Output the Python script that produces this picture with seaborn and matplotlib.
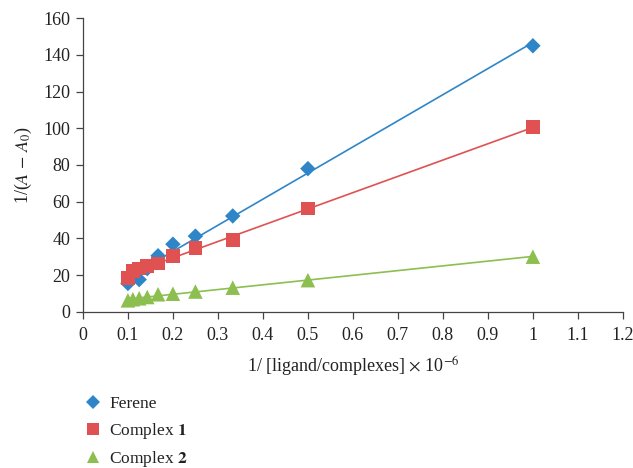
import numpy as np
import pandas as pd
import matplotlib
matplotlib.use("Agg")
import matplotlib.pyplot as plt
from matplotlib.lines import Line2D
import seaborn as sns

# 데이터
x_vals = [0.1, 0.111, 0.125, 0.143, 0.167, 0.2, 0.25, 0.333, 0.5, 1.0]
ferene = [15.4, 21.0, 17.5, 23.5, 30.5, 36.8, 41.2, 52.2, 78.0, 145.0]
complex1 = [18.5, 22.2, 23.5, 25.0, 26.2, 30.4, 34.6, 39.0, 56.3, 100.6]
complex2 = [6.2, 6.8, 7.3, 8.0, 9.5, 9.8, 11.0, 13.1, 17.2, 30.0]

series_names = ["Ferene", "Complex 1", "Complex 2"]
legend_labels = ["Ferene", r"Complex $\mathbf{1}$", r"Complex $\mathbf{2}$"]
colors = ["#2E86C8", "#E05252", "#8CBF4F"]
markers = ["D", "s", "^"]
sizes = [62, 95, 110]

x_ticks = [0, 0.1, 0.2, 0.3, 0.4, 0.5, 0.6, 0.7, 0.8, 0.9, 1, 1.1, 1.2]
x_tick_labels = ["0", "0.1", "0.2", "0.3", "0.4", "0.5", "0.6", "0.7", "0.8", "0.9", "1", "1.1", "1.2"]
y_ticks = [0, 20, 40, 60, 80, 100, 120, 140, 160]

df = pd.DataFrame({
    "x": x_vals * 3,
    "y": ferene + complex1 + complex2,
    "series": [n for n in series_names for _ in x_vals],
})

sns.set_style("white")
plt.rcParams["font.family"] = ["Liberation Serif", "DejaVu Serif"]
plt.rcParams["mathtext.fontset"] = "stix"

fig = plt.figure(figsize=(6.33, 4.68), dpi=100)
ax = fig.add_axes([0.131, 0.334, 0.853, 0.627])

handles = []
for name, c, m, s in zip(series_names, colors, markers, sizes):
    sub = df[df["series"] == name]
    # 추세선
    sns.regplot(data=sub, x="x", y="y", ax=ax, scatter=False, ci=None, truncate=True,
                line_kws={"color": c, "lw": 1.2})
    sns.scatterplot(data=sub, x="x", y="y", ax=ax, color=c, marker=m, s=s,
                    edgecolor="none", zorder=3, legend=False)
    handles.append(Line2D([], [], ls="none", color=c, marker=m,
                          markersize=np.sqrt(s) * 0.85, markeredgewidth=0))

ax.set_xlim(0, 1.2)
ax.set_ylim(0, 160)
ax.set_xticks(x_ticks)
ax.set_xticklabels(x_tick_labels)
ax.set_yticks(y_ticks)
ax.tick_params(axis="both", direction="out", length=5, width=0.9, color="#444444",
               labelsize=13, labelcolor="#222222", bottom=True, left=True)
ax.tick_params(axis="x", pad=6)
ax.tick_params(axis="y", pad=4)
sns.despine(ax=ax)
for sp in ["left", "bottom"]:
    ax.spines[sp].set_color("#444444")
    ax.spines[sp].set_linewidth(0.9)

ax.set_xlabel(r"1/ [ligand/complexes] $\times$ 10$^{-6}$", fontsize=13, color="#222222", labelpad=8)
ax.set_ylabel(r"1/($\mathit{A}$ $-$ $\mathit{A}_0$)", fontsize=13, color="#222222", labelpad=7)

leg = ax.get_legend()
if leg is not None:
    leg.remove()

fig.legend(handles=handles, labels=legend_labels, loc="upper left",
           bbox_to_anchor=(0.115, 0.168), frameon=False, fontsize=12.5,
           handletextpad=0.2, labelspacing=0.47, borderaxespad=0,
           handlelength=1.5, labelcolor="#222222")

fig.savefig("out.png", dpi=100)
